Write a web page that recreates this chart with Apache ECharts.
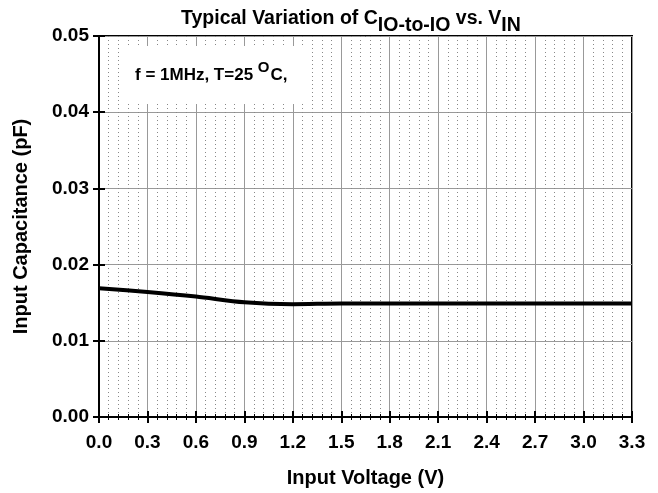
<!DOCTYPE html>
<html><head><meta charset="utf-8">
<script src="https://cdn.jsdelivr.net/npm/echarts@6/dist/echarts.min.js"></script>
<style>html,body{margin:0;padding:0;background:#fff}#c{width:658px;height:493px}</style>
</head><body><div id="c"></div>
<script>
var voltage = [0.0, 0.3, 0.6, 0.9, 1.2, 1.5, 1.8, 2.1, 2.4, 2.7, 3.0, 3.3];
var capacitance = [0.0169, 0.0164, 0.0158, 0.01505, 0.0148, 0.0149, 0.0149, 0.0149, 0.0149, 0.0149, 0.0149, 0.0149];
var xTicks = {min: 0, max: 3.3, interval: 0.3};
var yTicks = {min: 0, max: 0.05, interval: 0.01};

var F = 'Liberation Sans, Arial, sans-serif';
var chart = echarts.init(document.getElementById('c'));
var pts = voltage.map(function(v, i){ return [v, capacitance[i]]; });
chart.setOption({
  animation: false,
  backgroundColor: '#fff',
  title: {
    text: '{a|Typical Variation of C}{s|IO-to-IO}{a| vs. V}{s|IN}',
    left: 176, top: 0,
    textStyle: {
      rich: {
        a: {fontFamily: F, fontWeight: 'bold', fontSize: 19.5, color: '#000', verticalAlign: 'top', padding:[4,0,0,0]},
        s: {fontFamily: F, fontWeight: 'bold', fontSize: 19.5, color: '#000', verticalAlign: 'bottom', padding:[11,0,0,0]}
      }
    }
  },
  grid: {left: 99, right: 26, top: 36, bottom: 75, show: true, borderColor: '#000', borderWidth: 2, containLabel: false},
  xAxis: [{
    type: 'value', min: xTicks.min, max: xTicks.max, interval: xTicks.interval,
    name: 'Input Voltage (V)', nameLocation: 'middle', nameGap: 51,
    nameTextStyle: {fontFamily: F, fontWeight: 'bold', fontSize: 20, color: '#000'},
    axisLine: {show: true, lineStyle: {color: '#000', width: 2}},
    axisTick: {show: true, inside: true, length: 6, lineStyle: {color: '#000', width: 2}},
    minorTick: {show: true, splitNumber: 5, length: 3, lineStyle: {color: '#000', width: 1}},
    axisLabel: {fontFamily: F, fontWeight: 'bold', fontSize: 19, color: '#000', margin: 16, formatter: function(v){return v.toFixed(1);}},
    splitLine: {show: true, lineStyle: {color: '#999', width: 1}},
    minorSplitLine: {show: true, lineStyle: {color: '#888', width: 1, type: [1, 3]}}
  }, {
    type: 'value', position: 'top', min: xTicks.min, max: xTicks.max, interval: xTicks.interval,
    axisLine: {show: true, lineStyle: {color: '#000', width: 2}},
    axisTick: {show: true, inside: true, length: 6, lineStyle: {color: '#000', width: 2}},
    minorTick: {show: true, splitNumber: 5, length: 3, lineStyle: {color: '#000', width: 1}},
    axisLabel: {show: false}, splitLine: {show: false}
  }],
  yAxis: [{
    type: 'value', min: yTicks.min, max: yTicks.max, interval: yTicks.interval,
    name: 'Input Capacitance (pF)', nameLocation: 'middle', nameGap: 68,
    nameTextStyle: {fontFamily: F, fontWeight: 'bold', fontSize: 20, color: '#000'},
    axisLine: {show: true, lineStyle: {color: '#000', width: 2}},
    axisTick: {show: true, inside: true, length: 6, lineStyle: {color: '#000', width: 2}},
    axisLabel: {fontFamily: F, fontWeight: 'bold', fontSize: 19, color: '#000', margin: 10, padding: [5,0,0,0], formatter: function(v){return v.toFixed(2);}},
    splitLine: {show: true, lineStyle: {color: '#999', width: 1}}
  }, {
    type: 'value', position: 'right', min: yTicks.min, max: yTicks.max, interval: yTicks.interval,
    axisLine: {show: true, lineStyle: {color: '#000', width: 2}},
    axisTick: {show: true, inside: true, length: 6, lineStyle: {color: '#000', width: 2}},
    axisLabel: {show: false}, splitLine: {show: false}
  }],
  graphic: [{
    type: 'rect', left: 120, top: 46, z: 10,
    shape: {width: 190, height: 58}, style: {fill: '#fff'}
  }, {
    type: 'text', left: 135, top: 60, z: 11,
    style: {
      text: '{a|f = 1MHz, T=25 }{s|O}{a|C,}',
      rich: {
        a: {fontFamily: F, fontWeight: 'bold', fontSize: 17, fill: '#000', padding: [7,0,0,0]},
        s: {fontFamily: F, fontWeight: 'bold', fontSize: 15, fill: '#000', padding: [0,1,8,0]}
      }
    }
  }],
  series: [{
    type: 'line', data: pts, smooth: 0.3, symbol: 'none', z: 20,
    lineStyle: {color: '#000', width: 4}
  }]
});
</script></body></html>
